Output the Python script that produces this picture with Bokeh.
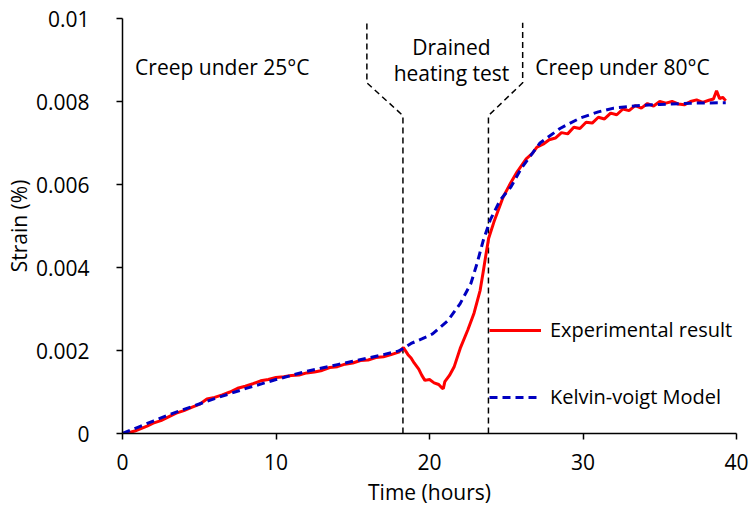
from bokeh.plotting import figure
from bokeh.models import FixedTicker, NumeralTickFormatter, Legend, LegendItem
from bokeh.core.properties import value
from bokeh.embed import file_html
from bokeh.resources import INLINE

# ---- data ----
exp_t = [0, 0.4, 0.8, 1.2, 1.6, 2.0, 2.5, 3.0, 3.5, 4.0, 4.5, 5.0, 5.5, 6.0, 6.5, 7.0, 7.5, 8.0,
         8.5, 9.0, 9.5, 10.0, 10.5, 11.0, 11.5, 12.0, 12.5, 13.0, 13.5, 14.0, 14.5, 15.0, 15.5,
         16.0, 16.5, 17.0, 17.5, 18.0, 18.3, 18.6, 18.8, 19.0, 19.3, 19.5, 19.7, 20.0, 20.3,
         20.6, 20.8, 20.9, 21.0, 21.3, 21.6, 22.0, 22.5, 22.9, 23.3, 23.5, 23.65, 23.85, 24.2,
         24.8, 25.2, 25.7, 26.3, 26.7, 27.0, 27.4, 27.8, 28.2, 28.6, 29.0, 29.4, 29.8, 30.2,
         30.6, 31.0, 31.4, 31.8, 32.2, 32.6, 33.0, 33.4, 33.8, 34.2, 34.6, 35.0, 35.4, 35.8,
         36.2, 36.6, 37.0, 37.4, 37.8, 38.2, 38.5, 38.7, 38.9, 39.1, 39.3]
exp_strain = [0.0, 0.00002, 0.00006, 0.00012, 0.00018, 0.00025, 0.00031, 0.0004, 0.00049, 0.00055,
              0.00063, 0.0007, 0.00083, 0.00087, 0.00093, 0.001, 0.00109, 0.00114, 0.0012, 0.00127,
              0.0013, 0.00135, 0.00137, 0.0014, 0.00141, 0.00146, 0.00148, 0.00152, 0.00159,
              0.00161, 0.00167, 0.0017, 0.00176, 0.00177, 0.00183, 0.00185, 0.0019, 0.00196,
              0.00207, 0.0019, 0.00182, 0.0017, 0.00155, 0.0014, 0.00128, 0.0013, 0.00122,
              0.00118, 0.0011, 0.00108, 0.00125, 0.0014, 0.0016, 0.00205, 0.0025, 0.0029,
              0.00345, 0.0039, 0.00425, 0.0047, 0.0051, 0.0057, 0.00598, 0.0063, 0.00662,
              0.00675, 0.0069, 0.00697, 0.00708, 0.00712, 0.00725, 0.00722, 0.00738, 0.00735,
              0.0075, 0.00748, 0.00762, 0.00758, 0.00772, 0.00768, 0.00782, 0.00778, 0.0079,
              0.00784, 0.00795, 0.00789, 0.008, 0.00796, 0.008, 0.00794, 0.00792, 0.008, 0.00804,
              0.00798, 0.00803, 0.00806, 0.00826, 0.00807, 0.0081, 0.00802]

model_t = [0, 1, 2, 3, 4, 5, 6, 7, 8, 9, 10, 11, 12, 13, 14, 15, 16, 17, 18, 18.3, 18.8, 19.5,
           20.2, 21.2, 22.0, 22.7, 23.1, 23.5, 23.95, 24.6, 25.3, 26.0, 27.2, 28.5, 29.8, 31.0,
           32.0, 33.5, 35.0, 37.0, 39.3]
model_strain = [0.0, 0.00015, 0.0003, 0.00045, 0.00058, 0.00071, 0.00084, 0.00096, 0.00108, 0.00119,
                0.0013, 0.0014, 0.0015, 0.00158, 0.00166, 0.00174, 0.00182, 0.0019, 0.00199,
                0.00205, 0.00217, 0.00228, 0.0024, 0.00272, 0.00313, 0.00362, 0.0041, 0.00465,
                0.00514, 0.00562, 0.00594, 0.0064, 0.007, 0.00735, 0.0076, 0.00775, 0.00784,
                0.0079, 0.00793, 0.00796, 0.00797]

# stage boundaries (dashed dividers)
left_div_x = [18.27, 18.27, 15.92, 15.92]
left_div_y = [0.0, 0.00766, 0.00845, 0.0099]
right_div_x = [23.84, 23.84, 26.07, 26.07]
right_div_y = [0.0, 0.00766, 0.00845, 0.0099]

stage_labels = ["Creep under 25°C", "Drained", "heating test", "Creep under 80°C"]
stage_x = [6.5, 21.43, 21.43, 32.57]
stage_y = [0.00883, 0.00931, 0.00868, 0.00883]

x_ticks = [0, 10, 20, 30, 40]
y_ticks = [0, 0.002, 0.004, 0.006, 0.008, 0.01]

FONT = "Open Sans"
FS = "21px"

p = figure(width=749, height=509, output_backend="svg", toolbar_location=None,
           x_range=(0, 40), y_range=(0, 0.01),
           min_border_left=122, min_border_right=13, min_border_top=18, min_border_bottom=76)
p.outline_line_color = None
p.xgrid.visible = False
p.ygrid.visible = False
p.background_fill_color = "white"
p.border_fill_color = "white"

for ax in (p.xaxis[0], p.yaxis[0]):
    ax.axis_line_color = "black"
    ax.axis_line_width = 1.5
    ax.major_tick_line_color = "black"
    ax.major_tick_line_width = 1.5
    ax.major_tick_in = 0
    ax.major_tick_out = 6
    ax.minor_tick_line_color = None
    ax.major_label_text_font = FONT
    ax.major_label_text_font_size = FS
    ax.major_label_text_color = "black"
    ax.axis_label_text_font = FONT
    ax.axis_label_text_font_size = FS
    ax.axis_label_text_font_style = "normal"
    ax.axis_label_text_color = "black"

p.xaxis.ticker = FixedTicker(ticks=x_ticks)
p.yaxis.ticker = FixedTicker(ticks=y_ticks)
p.yaxis.formatter = NumeralTickFormatter(format="0.[000]")
p.xaxis.axis_label = "Time (hours)"
p.yaxis.axis_label = "Strain (%)"
p.xaxis.major_label_standoff = 14
p.xaxis.axis_label_standoff = 5
p.yaxis.major_label_standoff = 27
p.yaxis.axis_label_standoff = 0

# dividers
p.line(left_div_x, left_div_y, line_color="black", line_width=1.5, line_dash="6 4")
p.line(right_div_x, right_div_y, line_color="black", line_width=1.5, line_dash="6 4")

r_exp = p.line(exp_t, exp_strain, line_color="#ff0000", line_width=3)
r_mod = p.line(model_t, model_strain, line_color="#0000c0", line_width=3, line_dash="8 5")

p.text(x=stage_x, y=stage_y, text=stage_labels, text_font=value(FONT),
       text_font_size=FS, text_align="center", text_baseline="middle", text_color="black")

legend = Legend(items=[LegendItem(label="Experimental result", renderers=[r_exp]),
                       LegendItem(label="Kelvin-voigt Model", renderers=[r_mod])],
                location=(367, 23), padding=0, margin=0, spacing=40,
                glyph_width=52, glyph_height=20, label_height=20, label_standoff=9,
                border_line_color=None, background_fill_alpha=0,
                label_text_font=FONT, label_text_font_size="20px", label_text_color="black")
p.add_layout(legend)

open("out.html", "w").write(file_html(p, INLINE))
